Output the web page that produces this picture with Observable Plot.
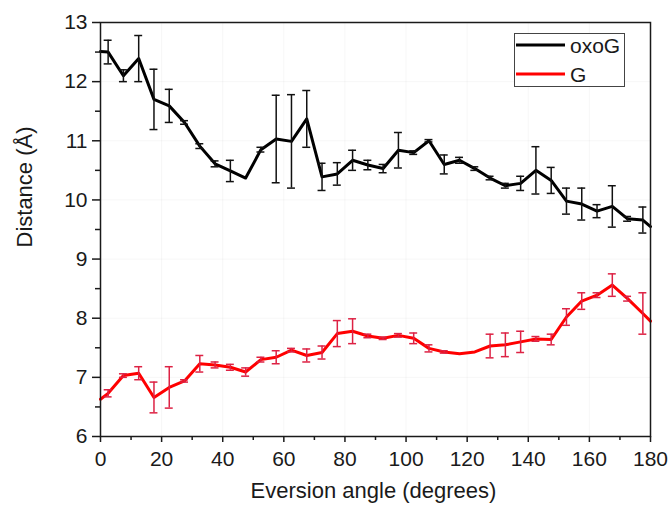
<!DOCTYPE html>
<html><head><meta charset="utf-8">
<script src="https://cdn.jsdelivr.net/npm/d3@7"></script>
<script src="https://cdn.jsdelivr.net/npm/@observablehq/plot@0.6"></script>
<style>
html,body{margin:0;padding:0;background:#fff;}
#wrap{position:relative;width:671px;height:510px;font-family:"Liberation Sans",Arial,sans-serif;}
#legend{position:absolute;left:514px;top:33px;}
</style></head><body><div id="wrap"></div>
<script>
const angles = [0,2.5,7.5,12.5,17.5,22.5,27.5,32.5,37.5,42.5,47.5,52.5,57.5,62.5,67.5,72.5,77.5,82.5,87.5,92.5,97.5,102.5,107.5,112.5,117.5,122.5,127.5,132.5,137.5,142.5,147.5,152.5,157.5,162.5,167.5,172.5,177.5,180];
const oxoG = [12.51,12.50,12.10,12.39,11.70,11.59,11.31,10.91,10.61,10.49,10.37,10.85,11.03,10.99,11.37,10.39,10.44,10.67,10.59,10.53,10.84,10.80,11.00,10.60,10.67,10.53,10.37,10.24,10.28,10.50,10.33,9.98,9.93,9.81,9.89,9.68,9.66,9.55];
const oxoGErr = [0,0.20,0.10,0.39,0.51,0.28,0.03,0.04,0.05,0.18,0,0.04,0.74,0.79,0.48,0.23,0.19,0.17,0.08,0.07,0.30,0.03,0.02,0.16,0.05,0.03,0.03,0.04,0.12,0.40,0.22,0.22,0.27,0.11,0.35,0.04,0.22,0];
const G = [6.63,6.73,7.03,7.07,6.66,6.83,6.94,7.23,7.21,7.17,7.09,7.30,7.34,7.46,7.37,7.42,7.74,7.78,7.70,7.66,7.71,7.66,7.49,7.43,7.40,7.43,7.53,7.55,7.60,7.65,7.64,8.02,8.29,8.39,8.56,8.33,8.08,7.95];
const GErr = [0,0.06,0.03,0.11,0.26,0.35,0.02,0.14,0.05,0.05,0.07,0.04,0.11,0.03,0.11,0.11,0.22,0.21,0.03,0.02,0.03,0.09,0.06,0.02,0,0,0.20,0.20,0.18,0.04,0.09,0.14,0.14,0.04,0.19,0.04,0.35,0];
const seriesNames = ["oxoG","G"];
const seriesColors = ["#000000","#ff0000"];
const errColors = ["#111111","#dd2244"];
const xMajor = [0,20,40,60,80,100,120,140,160,180];
const xMinor = [10,30,50,70,90,110,130,150,170];
const yMajor = [6,7,8,9,10,11,12,13];
const yMinor = [6.5,7.5,8.5,9.5,10.5,11.5,12.5];
const xTitle = "Eversion angle (degrees)";
const yTitle = "Distance (Å)";

const toRows = (vals, errs, s) => angles.map((a,i)=>({x:a, v:vals[i], e:errs[i], s}));
const rowsO = toRows(oxoG, oxoGErr, 0);
const rowsG = toRows(G, GErr, 1);

function errMarks(rows){
  const c = errColors[rows[0].s];
  const r = rows.filter(d=>d.e>0);
  const cap = 1.3;
  return [
    Plot.ruleX(r, {x:"x", y1:d=>d.v-d.e, y2:d=>d.v+d.e, stroke:c, strokeWidth:1.5}),
    Plot.ruleY(r, {y:d=>d.v+d.e, x1:d=>d.x-cap, x2:d=>d.x+cap, stroke:c, strokeWidth:1.5}),
    Plot.ruleY(r, {y:d=>d.v-d.e, x1:d=>d.x-cap, x2:d=>d.x+cap, stroke:c, strokeWidth:1.5})
  ];
}

const font = "Liberation Sans, Arial, sans-serif";
const ink = "#1a1a1a";
const chart = Plot.plot({
  width:671, height:510,
  marginLeft:100, marginRight:21, marginTop:22, marginBottom:74,
  style:{fontFamily:font, fontSize:"21px", color:ink, background:"#fff"},
  x:{domain:[0,180]},
  y:{domain:[6,13]},
  marks:[
    Plot.gridX(xMajor.slice(1,-1), {stroke:"#000", strokeOpacity:0.035}),
    Plot.gridY(yMajor.slice(1,-1), {stroke:"#000", strokeOpacity:0.035}),
    Plot.line(rowsO, {x:"x", y:"v", stroke:seriesColors[0], strokeWidth:3}),
    Plot.line(rowsG, {x:"x", y:"v", stroke:seriesColors[1], strokeWidth:3}),
    ...errMarks(rowsO),
    ...errMarks(rowsG),
    Plot.frame({stroke:ink, strokeWidth:1.5}),
    Plot.axisX(xMajor, {tickSize:6, tickPadding:9, fontSize:21, label:null, tickFormat:"d", strokeWidth:1.5, stroke:ink}),
    Plot.axisX(xMinor, {tickSize:4, text:null, label:null, strokeWidth:1.5, stroke:ink}),
    Plot.axisY(yMajor, {tickSize:8, tickPadding:5, fontSize:21, label:null, tickFormat:"d", strokeWidth:1.5, stroke:ink}),
    Plot.axisY(yMinor, {tickSize:5, text:null, label:null, strokeWidth:1.5, stroke:ink}),
    Plot.text([xTitle], {frameAnchor:"bottom", dy:61, dx:-2, fontSize:22, fill:ink}),
    Plot.text([yTitle], {frameAnchor:"left", dx:-76, dy:18, rotate:-90, fontSize:22, fill:ink})
  ]
});
const wrap = document.getElementById("wrap");
wrap.appendChild(chart);

// legend overlay
const lg = document.createElement("div");
lg.id = "legend";
let svg = `<svg width="111" height="54" xmlns="http://www.w3.org/2000/svg" style="font-family:${font}">`;
svg += `<rect x="0.5" y="0.5" width="110" height="53" fill="#fff" stroke="#444" stroke-width="1"/>`;
seriesNames.forEach((n,i)=>{
  const y = 12 + i*29;
  svg += `<line x1="2" x2="51" y1="${y}" y2="${y}" stroke="${seriesColors[i]}" stroke-width="3"/>`;
  svg += `<text x="56" y="${y}" dy="0.36em" font-size="21" fill="${ink}">${n}</text>`;
});
svg += `</svg>`;
lg.innerHTML = svg;
wrap.appendChild(lg);
</script>
</body></html>
